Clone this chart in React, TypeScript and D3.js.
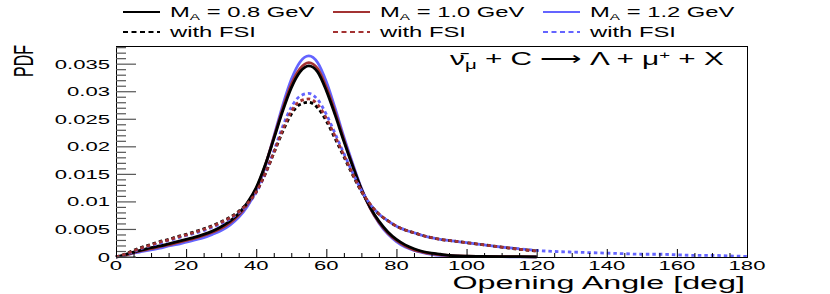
import React from 'react';
import * as d3 from 'd3';

const width = 830;
const height = 294;
const frame = { left: 116, right: 747, top: 46, bottom: 257 };
// glyphs in the reference come out stretched sideways, so text gets a x-scale
const SX = 1.7;
const FONT = 'Liberation Sans, Arial, Helvetica, sans-serif';

// opening angle [deg]
const angles = [
  0, 2.5, 5, 7.5, 10, 12.5, 15, 17.5, 20, 22.5, 25, 27.5, 30, 32.5, 35, 37.5, 40, 42.5, 45, 47.5,
  50, 52.5, 55, 57.5, 60, 62.5, 65, 67.5, 70, 72.5, 75, 77.5, 80, 82.5, 85, 87.5, 90, 92.5, 95, 97.5,
  100, 105, 110, 115, 120, 125, 130, 135, 140, 145, 150, 155, 160, 165, 170, 175, 180
];

// PDF, no FSI
const ma08 = [
  0, 0.0004, 0.0009, 0.0013, 0.0017, 0.002, 0.0024, 0.0028, 0.0032, 0.0036, 0.0041, 0.0047, 0.0055, 0.0065, 0.0079, 0.0099, 0.0126, 0.0166, 0.0214, 0.0264,
  0.0307, 0.0336, 0.0347, 0.0336, 0.0302, 0.0258, 0.021, 0.0165, 0.0123, 0.009, 0.0065, 0.0046, 0.0032, 0.0022, 0.0015, 0.001, 0.0007, 0.0005, 0.0003, 0.0002,
  0.00015, 0.0001, 0.00007, 0.00005, 0.00003
];
const ma10 = [
  0, 0.0003, 0.0008, 0.0012, 0.0015, 0.0019, 0.0022, 0.0026, 0.003, 0.0034, 0.0039, 0.0045, 0.0052, 0.0062, 0.0076, 0.0096, 0.0124, 0.0165, 0.0216, 0.0268,
  0.0313, 0.0342, 0.0353, 0.0342, 0.0308, 0.0263, 0.0213, 0.0166, 0.0123, 0.0089, 0.0063, 0.0044, 0.003, 0.002, 0.0013, 0.0009, 0.0006, 0.0004, 0.0003, 0.0002,
  0.00015, 0.0001, 0.00007, 0.00005, 0.00003
];
const ma12 = [
  0, 0.0003, 0.0007, 0.001, 0.0013, 0.0016, 0.002, 0.0023, 0.0027, 0.0031, 0.0035, 0.0041, 0.0048, 0.0058, 0.0072, 0.0092, 0.0121, 0.0163, 0.0218, 0.0274,
  0.0322, 0.0354, 0.0365, 0.0353, 0.0318, 0.027, 0.0218, 0.017, 0.0125, 0.0089, 0.0062, 0.0042, 0.0028, 0.0018, 0.0012, 0.0008, 0.0005, 0.0003, 0.0002, 0.00015,
  0.0001, 0.00007, 0.00005, 0.00003, 0.00002
];

// PDF, with FSI
const ma08fsi = [
  0, 0.0005, 0.0012, 0.0018, 0.0023, 0.0028, 0.0032, 0.0037, 0.0041, 0.0046, 0.0051, 0.0057, 0.0064, 0.0072, 0.0083, 0.0098, 0.0119, 0.015, 0.0188, 0.0227,
  0.0259, 0.0277, 0.0281, 0.0271, 0.0247, 0.0215, 0.0182, 0.0149, 0.0119, 0.0095, 0.0078, 0.0066, 0.0056, 0.0049, 0.0044, 0.0039, 0.0035, 0.0032, 0.003, 0.0028,
  0.0026, 0.0022, 0.0018, 0.0014, 0.0011
];
const ma10fsi = [
  0, 0.0005, 0.0011, 0.0017, 0.0022, 0.0027, 0.0031, 0.0036, 0.004, 0.0045, 0.005, 0.0056, 0.0063, 0.0071, 0.0082, 0.0097, 0.0118, 0.015, 0.0189, 0.023,
  0.0264, 0.0283, 0.0287, 0.0277, 0.0252, 0.0219, 0.0185, 0.0151, 0.012, 0.0096, 0.0078, 0.0066, 0.0056, 0.0049, 0.0044, 0.0039, 0.0035, 0.0032, 0.003, 0.0028,
  0.0026, 0.0022, 0.0018, 0.0014, 0.0011
];
const ma12fsi = [
  0, 0.0004, 0.001, 0.0016, 0.0021, 0.0025, 0.003, 0.0034, 0.0039, 0.0043, 0.0048, 0.0054, 0.0061, 0.0069, 0.008, 0.0095, 0.0117, 0.015, 0.0192, 0.0236,
  0.0272, 0.0292, 0.0297, 0.0286, 0.0259, 0.0224, 0.0188, 0.0153, 0.0121, 0.0096, 0.0078, 0.0066, 0.0056, 0.0049, 0.0044, 0.0039, 0.0035, 0.0032, 0.003, 0.0028,
  0.0026, 0.0022, 0.0018, 0.0015, 0.0012, 0.001, 0.0009, 0.0008, 0.0007, 0.0006, 0.0005, 0.0005, 0.0004, 0.0003, 0.0003, 0.0002, 0.0001
];

const legendMasses = ['0.8', '1.0', '1.2'];
const colors = ['#000000', '#a33232', '#6464ff'];

// drawing order: solids, then dashed
const curves = [
  { values: ma12, color: colors[2], dashed: false },
  { values: ma10, color: colors[1], dashed: false },
  { values: ma08, color: colors[0], dashed: false },
  { values: ma12fsi, color: colors[2], dashed: true },
  { values: ma08fsi, color: colors[0], dashed: true },
  { values: ma10fsi, color: colors[1], dashed: true }
];

const x = d3.scaleLinear().domain([0, 180]).range([frame.left, frame.right]);
const y = d3.scaleLinear().domain([0, 0.0383]).range([frame.bottom, frame.top]);

const line = d3
  .line<number>()
  .x((d, i) => x(angles[i]))
  .y(d => y(d))
  .curve(d3.curveMonotoneX);

const fmt = (v: number) => String(+v.toFixed(3));

const Txt = ({ x0, y0, size, anchor = 'start', children }: any) => (
  <text
    transform={`translate(${x0},${y0}) scale(${SX},1)`}
    fontSize={size}
    fontFamily={FONT}
    textAnchor={anchor}
    fill="#000"
  >
    {children}
  </text>
);

export default function App() {
  const yMajor = y.ticks(8);
  const yMinor = y.ticks(40).filter(t => !yMajor.some(m => Math.abs(m - t) < 1e-9));
  const xMajor = x.ticks(9);
  const xMinor = x.ticks(36).filter(t => t % 20 !== 0);

  return (
    <svg
      width={width}
      height={height}
      style={{ position: 'absolute', left: 0, top: 0, background: '#fff' }}
    >
      {/* curves */}
      <g fill="none" strokeLinejoin="round">
        {curves.map((c, i) => (
          <path
            key={i}
            d={line(c.values) || ''}
            stroke={c.color}
            strokeWidth={2.8}
            strokeDasharray={c.dashed ? '3.5,3' : undefined}
          />
        ))}
      </g>

      {/* frame */}
      <rect
        x={frame.left + 0.5}
        y={frame.top + 0.5}
        width={frame.right - frame.left}
        height={frame.bottom - frame.top}
        fill="none"
        stroke="#000"
        strokeWidth={1}
      />

      {/* y ticks */}
      <g stroke="#555" strokeWidth={1.2}>
        {yMajor.map(t => (
          <line key={'ym' + t} x1={frame.left} x2={frame.left + 20} y1={y(t)} y2={y(t)} />
        ))}
        {yMinor.map(t => (
          <line key={'yn' + t} x1={frame.left} x2={frame.left + 10} y1={y(t)} y2={y(t)} />
        ))}
      </g>
      {yMajor.map(t => (
        <Txt key={'yl' + t} x0={frame.left - 6} y0={y(t) + 4.5} size={13} anchor="end">
          {fmt(t)}
        </Txt>
      ))}

      {/* x ticks */}
      <g stroke="#000" strokeWidth={1}>
        {xMajor.map(t => (
          <line key={'xm' + t} x1={x(t) + 0.5} x2={x(t) + 0.5} y1={frame.bottom} y2={frame.bottom - 8} />
        ))}
        {xMinor.map(t => (
          <line key={'xn' + t} x1={x(t) + 0.5} x2={x(t) + 0.5} y1={frame.bottom} y2={frame.bottom - 4} />
        ))}
      </g>
      {xMajor.map(t => (
        <Txt key={'xl' + t} x0={x(t)} y0={frame.bottom + 13} size={13} anchor="middle">
          {t}
        </Txt>
      ))}

      {/* axis titles */}
      <Txt x0={frame.right - 2} y0={289} size={19} anchor="end">
        Opening Angle [deg]
      </Txt>
      <g transform={`translate(33,${frame.top - 1}) scale(${SX},1)`}>
        <text transform="rotate(-90)" fontSize={16} fontFamily={FONT} textAnchor="end" fill="#000">
          PDF
        </text>
      </g>

      {/* reaction */}
      <Txt x0={450} y0={65} size={17.5}>
        <tspan>{'\u03BD\u0304'}</tspan>
        <tspan fontSize={12} dy={4}>μ</tspan>
        <tspan dy={-4}>{' + C \u27F6 \u039B + \u03BC'}</tspan>
        <tspan fontSize={11} dy={-6}>+</tspan>
        <tspan dy={6}>{' + X'}</tspan>
      </Txt>

      {/* legend */}
      {legendMasses.map((m, i) => {
        const x0 = 123 + i * 210;
        return (
          <g key={m}>
            <line x1={x0} x2={x0 + 37} y1={12} y2={12} stroke={colors[i]} strokeWidth={2} />
            <Txt x0={x0 + 47} y0={17} size={14}>
              <tspan>M</tspan>
              <tspan fontSize={9} dy={3}>A</tspan>
              <tspan dy={-3}>{` = ${m} GeV`}</tspan>
            </Txt>
            <line
              x1={x0}
              x2={x0 + 37}
              y1={32}
              y2={32}
              stroke={colors[i]}
              strokeWidth={2}
              strokeDasharray="5,3.5"
            />
            <Txt x0={x0 + 47} y0={37} size={14}>
              with FSI
            </Txt>
          </g>
        );
      })}
    </svg>
  );
}
